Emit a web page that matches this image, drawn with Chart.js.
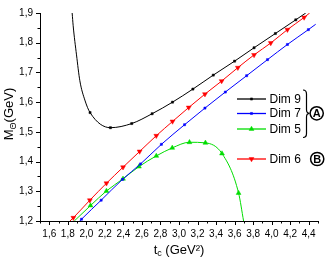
<!DOCTYPE html>
<html><head><meta charset="utf-8">
<script src="https://cdn.jsdelivr.net/npm/chart.js@4.4.1/dist/chart.umd.min.js"></script>
<style>html,body{margin:0;padding:0;background:#fff;}#wrap{width:327px;height:261px;position:relative;}</style>
</head><body><div id="wrap"><canvas id="c" width="327" height="261"></canvas></div>
<script>
// ---- data ----
const dim9T = [1.847, 1.858, 1.894, 1.93, 1.984, 2.04, 2.26, 2.49, 2.71, 2.93, 3.15, 3.37, 3.60, 3.81, 4.04, 4.26, 4.368];
const dim9M = [1.900, 1.857, 1.759, 1.672, 1.607, 1.565, 1.514, 1.528, 1.561, 1.600, 1.644, 1.691, 1.738, 1.783, 1.831, 1.877, 1.900];
const dim7T = [1.93, 1.948, 2.16, 2.39, 2.585, 2.81, 3.06, 3.28, 3.50, 3.73, 3.955, 4.17, 4.396, 4.475];
const dim7M = [1.200, 1.206, 1.270, 1.340, 1.392, 1.458, 1.524, 1.580, 1.634, 1.689, 1.743, 1.794, 1.844, 1.862];
const dim5T = [1.87, 2.045, 2.217, 2.396, 2.568, 2.755, 2.927, 3.113, 3.285, 3.464, 3.643, 3.697];
const dim5M = [1.200, 1.252, 1.301, 1.342, 1.383, 1.419, 1.446, 1.465, 1.463, 1.427, 1.294, 1.200];
const dim6T = [1.823, 1.86, 2.038, 2.217, 2.396, 2.575, 2.755, 2.93, 3.105, 3.28, 3.46, 3.635, 3.81, 3.99, 4.17, 4.35, 4.41];
const dim6M = [1.200, 1.211, 1.270, 1.327, 1.381, 1.434, 1.487, 1.535, 1.582, 1.627, 1.671, 1.716, 1.759, 1.799, 1.844, 1.885, 1.900];
const seriesNames = ['Dim 9', 'Dim 7', 'Dim 5', 'Dim 6'];
const groupLabels = ['A', 'B'];
const xTitle = ['t', 'c', ' (GeV²)'];
const yTitle = ['M', 'Θ', '(GeV)'];

const FONT = "'Liberation Sans Narrow','Liberation Sans',Arial,sans-serif";
const GREEN = '#00dd00';
const styles = [
  {color: '#000000', style: 'rect', r: 1.5, rot: 0},
  {color: '#0000ff', style: 'rect', r: 1.5, rot: 0},
  {color: GREEN, style: 'triangle', r: 2.8, rot: 0},
  {color: '#ff0000', style: 'triangle', r: 2.8, rot: 180}
];
const cols = [[dim9T, dim9M], [dim7T, dim7M], [dim5T, dim5M], [dim6T, dim6M]];

function pts(t, m) { return t.map((v, i) => ({x: v, y: m[i]})); }

const datasets = cols.map((c, k) => ({
  label: seriesNames[k],
  data: pts(c[0], c[1]),
  showLine: true,
  borderColor: styles[k].color,
  backgroundColor: styles[k].color,
  borderWidth: 1,
  cubicInterpolationMode: 'monotone',
  pointStyle: styles[k].style,
  rotation: styles[k].rot,
  pointBorderWidth: 0.5,
  pointRadius: (ctx) => {
    const n = ctx.dataset.data.length;
    const i = ctx.dataIndex;
    if (i === 0 || i === n - 1) return 0;
    if (k === 0 && ctx.dataset.data[i].x < 2.0) return 0;
    return styles[k].r;
  }
}));

const decorPlugin = {
  id: 'decor',
  afterDraw(chart) {
    const ctx = chart.ctx;
    const ca = chart.chartArea;
    const xs = chart.scales.x, ys = chart.scales.y;
    ctx.save();
    ctx.strokeStyle = '#000';
    ctx.lineWidth = 1;
    // x ticks
    xs.ticks.forEach(t => {
      const v = Math.round(t.value * 10);
      const px = Math.round(xs.getPixelForValue(t.value)) + 0.5;
      const len = (v % 2 === 0) ? 4 : 2.5;
      ctx.beginPath(); ctx.moveTo(px, ca.bottom); ctx.lineTo(px, ca.bottom + len); ctx.stroke();
    });
    ys.ticks.forEach(t => {
      const v = Math.round(t.value * 100);
      const py = Math.round(ys.getPixelForValue(t.value)) + 0.5;
      const len = (v % 10 === 0) ? 4 : 2.5;
      ctx.beginPath(); ctx.moveTo(ca.left, py); ctx.lineTo(ca.left - len, py); ctx.stroke();
    });
    ctx.fillStyle = '#000';
    ctx.textBaseline = 'alphabetic';
    // x title
    const big = "13px " + FONT, small = "9px " + FONT;
    ctx.font = big; const w0 = ctx.measureText(xTitle[0]).width, w2 = ctx.measureText(xTitle[2]).width;
    ctx.font = small; const w1 = ctx.measureText(xTitle[1]).width;
    let sx = 179 - (w0 + w1 + w2) / 2, by = 254;
    ctx.font = big; ctx.fillText(xTitle[0], sx, by);
    ctx.font = small; ctx.fillText(xTitle[1], sx + w0, by + 2);
    ctx.font = big; ctx.fillText(xTitle[2], sx + w0 + w1, by);
    // y title
    ctx.save();
    ctx.translate(13, 114); ctx.rotate(-Math.PI / 2);
    ctx.font = big; const u0 = ctx.measureText(yTitle[0]).width, u2 = ctx.measureText(yTitle[2]).width;
    ctx.font = small; const u1 = ctx.measureText(yTitle[1]).width;
    let ty = -(u0 + u1 + u2) / 2;
    ctx.font = big; ctx.fillText(yTitle[0], ty, 0);
    ctx.font = small; ctx.fillText(yTitle[1], ty + u0, 2.5);
    ctx.font = big; ctx.fillText(yTitle[2], ty + u0 + u1, 0);
    ctx.restore();
    // legend
    const rows = [99, 113.5, 129, 159];
    ctx.font = "12px " + FONT;
    ctx.textBaseline = 'middle';
    rows.forEach((y, k) => {
      ctx.strokeStyle = styles[k].color; ctx.lineWidth = 1.3;
      ctx.beginPath(); ctx.moveTo(237, y); ctx.lineTo(266, y); ctx.stroke();
      ctx.fillStyle = styles[k].color; ctx.strokeStyle = styles[k].color; ctx.lineWidth = 0.5;
      Chart.helpers.drawPoint(ctx, {pointStyle: styles[k].style, radius: styles[k].r, rotation: styles[k].rot, borderWidth: 0.5}, 251.5, y);
      ctx.fillStyle = '#000';
      ctx.fillText(seriesNames[k], 269.5, y + 0.5);
    });
    // brace
    ctx.strokeStyle = '#000'; ctx.lineWidth = 1.2;
    ctx.beginPath();
    ctx.moveTo(303, 90);
    ctx.quadraticCurveTo(306.5, 90, 306.5, 94);
    ctx.lineTo(306.5, 109.5);
    ctx.quadraticCurveTo(306.5, 113.3, 309.5, 113.3);
    ctx.quadraticCurveTo(306.5, 113.3, 306.5, 117);
    ctx.lineTo(306.5, 133.5);
    ctx.quadraticCurveTo(306.5, 137.5, 303, 137.5);
    ctx.stroke();
    // circled letters
    ctx.lineWidth = 1.5;
    ctx.font = "bold 11px 'Liberation Sans',Arial,sans-serif";
    ctx.textAlign = 'center';
    [[316.7, 113.3, groupLabels[0]], [317.2, 159, groupLabels[1]]].forEach(([cx, cy, s]) => {
      ctx.beginPath(); ctx.arc(cx, cy, 6.6, 0, Math.PI * 2); ctx.stroke();
      ctx.fillStyle = '#000'; ctx.fillText(s, cx, cy + 0.8);
    });
    ctx.restore();
  }
};

new Chart(document.getElementById('c'), {
  type: 'scatter',
  data: {datasets},
  plugins: [decorPlugin],
  options: {
    responsive: false,
    devicePixelRatio: 1,
    animation: false,
    events: [],
    layout: {padding: {top: 7, right: 9, left: 0, bottom: 0}},
    plugins: {legend: {display: false}, tooltip: {enabled: false}},
    scales: {
      x: {
        type: 'linear', min: 1.5, max: 4.5,
        grid: {display: false, drawTicks: false},
        border: {display: true, color: '#000', width: 1},
        afterFit(s) { s.height = 40; },
        ticks: {
          stepSize: 0.1, autoSkip: false, maxRotation: 0, minRotation: 0, padding: 7,
          color: '#000', font: {family: FONT, size: 10},
          callback(value) {
            const v = Math.round(value * 10);
            return (v % 2 === 0 && v >= 16 && v <= 44) ? (v / 10).toFixed(1).replace('.', ',') : '';
          }
        }
      },
      y: {
        type: 'linear', min: 1.2, max: 1.9,
        grid: {display: false, drawTicks: false},
        border: {display: true, color: '#000', width: 1},
        afterFit(s) { s.width = 40; },
        ticks: {
          stepSize: 0.05, autoSkip: false, padding: 7,
          color: '#000', font: {family: FONT, size: 10},
          callback(value) {
            const v = Math.round(value * 100);
            return (v % 10 === 0) ? (v / 100).toFixed(1).replace('.', ',') : '';
          }
        }
      }
    }
  }
});
</script></body></html>
